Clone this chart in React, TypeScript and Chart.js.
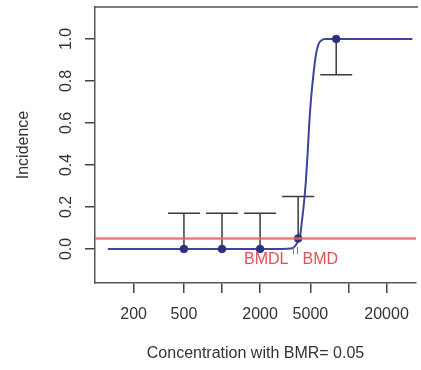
import React, { useEffect, useRef } from 'react';
import { Chart, registerables } from 'chart.js';

Chart.register(...registerables);

// Observed data (dose, incidence) with confidence limits
const doses = [500, 1000, 2000, 4000, 8000];
const incidence = [0, 0, 0, 0.05, 1.0];
const ciLower = [0, 0, 0, 0.05, 0.83];
const ciUpper = [0.17, 0.17, 0.17, 0.25, 1.0];

// Fitted curve
const curveDose = [125, 1000, 3000, 3500, 3800, 4000, 4150, 4300, 4450, 4600, 4750, 4900, 5050, 5200, 5350, 5550, 5800, 6100, 6500, 8000, 32000];
const curveIncidence = [0, 0, 0, 0.002, 0.015, 0.04, 0.065, 0.14, 0.22, 0.32, 0.45, 0.6, 0.71, 0.79, 0.86, 0.93, 0.975, 0.993, 1.0, 1.0, 1.0];

const bmr = 0.05;
const bmdl = 3650;
const bmd = 3950;

const xTicks = [200, 500, 1000, 2000, 5000, 10000, 20000];
const xTickLabels = ['200', '500', '', '2000', '5000', '', '20000'];
const yTicks = [0, 0.2, 0.4, 0.6, 0.8, 1.0];
const yTickLabels = ['0.0', '0.2', '0.4', '0.6', '0.8', '1.0'];
const xRange = [99, 34200];
const yRange = [-0.162, 1.152];

const FONT = "'Liberation Sans', Arial, Helvetica, sans-serif";

const errorBars = {
  id: 'errorBars',
  beforeDatasetsDraw(chart: any) {
    const { ctx, scales } = chart;
    const x = scales.x, y = scales.y;
    ctx.save();
    ctx.strokeStyle = '#3a3a3a';
    ctx.lineWidth = 1.5;
    doses.forEach((d, i) => {
      const px = x.getPixelForValue(d);
      const py = y.getPixelForValue(incidence[i]);
      [ciLower[i], ciUpper[i]].forEach((b) => {
        if (Math.abs(b - incidence[i]) < 0.005) return;
        const pb = y.getPixelForValue(b);
        ctx.beginPath();
        ctx.moveTo(px, py);
        ctx.lineTo(px, pb);
        ctx.moveTo(px - 16, pb);
        ctx.lineTo(px + 16, pb);
        ctx.stroke();
      });
    });
    ctx.restore();
  },
};

const bmdMarks = {
  id: 'bmdMarks',
  afterDatasetsDraw(chart: any) {
    const { ctx, scales } = chart;
    const x = scales.x, y = scales.y;
    const pl = Math.round(x.getPixelForValue(bmdl)) + 0.5;
    const pd = Math.round(x.getPixelForValue(bmd)) + 0.5;
    const y0 = y.getPixelForValue(0.01);
    const y1 = y.getPixelForValue(-0.025);
    const yt = y.getPixelForValue(-0.05);
    ctx.save();
    ctx.strokeStyle = '#e0505a';
    ctx.lineWidth = 1;
    ctx.beginPath();
    ctx.moveTo(pl, y0); ctx.lineTo(pl, y1);
    ctx.moveTo(pd, y0); ctx.lineTo(pd, y1);
    ctx.stroke();
    ctx.fillStyle = '#e0505a';
    ctx.font = `16px ${FONT}`;
    ctx.textBaseline = 'middle';
    ctx.textAlign = 'right';
    ctx.fillText('BMDL', pl - 5, yt);
    ctx.textAlign = 'left';
    ctx.fillText('BMD', pd + 5, yt);
    ctx.restore();
  },
};

const topBorder = {
  id: 'topBorder',
  afterDraw(chart: any) {
    const { ctx, chartArea } = chart;
    ctx.save();
    ctx.strokeStyle = '#555';
    ctx.lineWidth = 1.5;
    ctx.beginPath();
    ctx.moveTo(chartArea.left, chartArea.top);
    ctx.lineTo(chartArea.right + 2, chartArea.top);
    ctx.stroke();
    ctx.restore();
  },
};

export default function App() {
  const ref = useRef<HTMLCanvasElement>(null);
  useEffect(() => {
    Chart.defaults.font.family = FONT;
    const chart = new Chart(ref.current as HTMLCanvasElement, {
      type: 'line',
      data: {
        datasets: [
          {
            label: 'BMR',
            data: xRange.map((v) => ({ x: v, y: bmr })),
            borderColor: 'rgba(238,95,100,0.85)',
            borderWidth: 2.5,
            pointRadius: 0,
            order: 1,
          },
          {
            label: 'Observed',
            type: 'scatter',
            data: doses.map((d, i) => ({ x: d, y: incidence[i] })),
            backgroundColor: '#2d3080',
            borderColor: '#2d3080',
            pointRadius: 3.8,
            order: 2,
          },
          {
            label: 'Fit',
            data: curveDose.map((d, i) => ({ x: d, y: curveIncidence[i] })),
            borderColor: '#3e43a0',
            borderWidth: 2,
            pointRadius: 0,
            cubicInterpolationMode: 'monotone',
            order: 3,
          },
        ],
      } as any,
      options: {
        animation: false,
        responsive: false,
        devicePixelRatio: 1,
        layout: { padding: { top: 7, left: 0, right: 0, bottom: 0 } },
        plugins: { legend: { display: false }, tooltip: { enabled: false } },
        scales: {
          x: {
            type: 'logarithmic',
            min: xRange[0],
            max: xRange[1],
            afterBuildTicks: (s: any) => {
              s.ticks = xTicks.map((v) => ({ value: v }));
            },
            afterFit: (s: any) => {
              s.height = 87;
              s.paddingLeft = 0;
              s.paddingRight = 0;
            },
            ticks: {
              autoSkip: false,
              maxRotation: 0,
              minRotation: 0,
              padding: 12,
              color: '#333',
              font: { size: 16 },
              callback: (_v: any, i: number) => xTickLabels[i],
            },
            grid: { drawOnChartArea: false, drawTicks: true, tickLength: 10, color: '#444', lineWidth: 1.5 },
            border: { display: true, color: '#555', width: 1.5 },
            title: {
              display: true,
              text: 'Concentration with BMR= 0.05',
              color: '#333',
              font: { size: 16 },
              padding: { top: 0, bottom: 6.5 },
            },
          },
          y: {
            type: 'linear',
            min: yRange[0],
            max: yRange[1],
            afterBuildTicks: (s: any) => {
              s.ticks = yTicks.map((v) => ({ value: v }));
            },
            afterFit: (s: any) => {
              s.width = 95;
              s.paddingTop = 0;
              s.paddingBottom = 0;
            },
            ticks: {
              minRotation: 90,
              maxRotation: 90,
              crossAlign: 'center',
              padding: 7.5,
              color: '#333',
              font: { size: 16 },
              callback: (_v: any, i: number) => yTickLabels[i],
            },
            grid: { drawOnChartArea: false, drawTicks: true, tickLength: 10, color: '#444', lineWidth: 1.5 },
            border: { display: true, color: '#555', width: 1.5 },
            title: {
              display: true,
              text: 'Incidence',
              color: '#333',
              font: { size: 16 },
              padding: { top: 14, bottom: 0 },
            },
          },
        },
      } as any,
      plugins: [errorBars, bmdMarks, topBorder],
    });
    return () => chart.destroy();
  }, []);
  return (
    <div style={{ position: 'fixed', left: 0, top: 0, width: 421, height: 370, background: '#fff', overflow: 'hidden' }}>
      <canvas ref={ref} width={421} height={370} style={{ display: 'block' }} />
    </div>
  );
}
